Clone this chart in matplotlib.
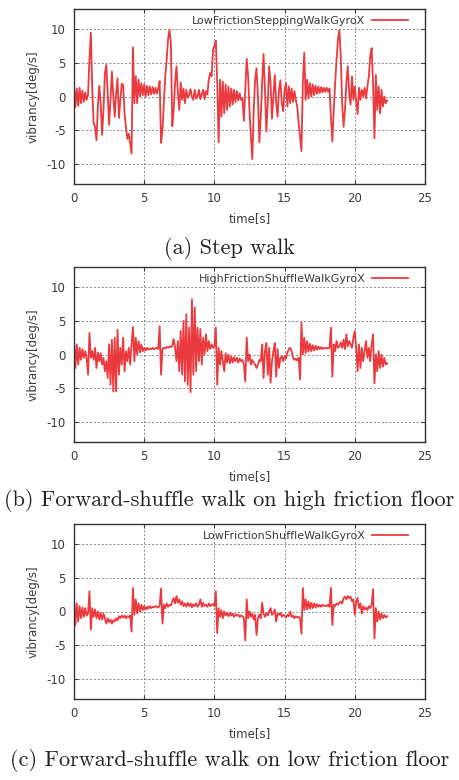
import numpy as np
import matplotlib
matplotlib.use("Agg")
import matplotlib.pyplot as plt

# Sample period of the gyro traces [s]
SAMPLE_PERIOD = 0.1

# (a) Low friction stepping walk, GyroX [deg/s], one row per second
step_walk = [
    1.5, -1.6, 1.2, -1.4, 1.3, -1.0, 0.9, -0.8, 0.6, -0.5,
    0.3, 5.5, 9.5, 1.0, -4.0, -4.5, -6.5, -1.5, 1.6, -1.0,
    -5.7, -2.0, 3.5, 4.7, 0.5, -4.2, -0.5, 3.7, 0.0, -3.0,
    0.5, 2.7, -3.2, -0.5, 1.9, 1.7, -2.5, -4.5, -6.3, -5.5,
    -7.0, -8.5, 7.3, -1.0, 3.0, -1.0, 2.5, 0.0, 2.0, 0.2,
    1.8, 0.0, 1.6, 0.2, 1.5, 0.3, 1.4, 0.4, 1.3, 0.4,
    1.2, 2.3, -6.9, -5.0, -1.0, 3.0, 5.5, 8.5, 9.9, 8.0,
    -4.4, -2.0, 2.0, 4.5, 0.5, -2.0, 2.1, -0.5, 1.2, -1.0,
    1.0, -0.2, 0.2, 1.1, 0.0, -0.5, 1.0, -0.3, 0.0, 1.0,
    -0.4, 0.3, 1.0, -0.4, 0.8, 0.3, 2.5, 3.5, 3.0, 7.0,
    7.5, 8.3, 2.0, -6.8, 2.5, -3.0, 2.2, -2.5, 1.8, -2.0,
    1.5, -1.5, 1.2, -1.2, 1.0, -0.8, 0.8, -0.6, 0.5, -0.5,
    -0.3, -3.6, 1.0, 5.6, 3.0, -2.0, -6.0, -9.3, -2.0, 2.5,
    4.2, 0.0, -6.8, -3.0, 2.0, 6.3, 1.0, -5.2, -1.0, 4.5,
    2.0, -3.3, 0.0, 3.2, -1.0, -3.0, 1.0, 2.4, -1.0, -2.2,
    1.0, 2.0, -1.5, 1.5, -1.0, 1.2, -0.8, 0.8, -0.5, -1.5,
    -4.0, -6.0, -8.1, 2.0, 6.5, -0.5, 2.5, -0.3, 2.0, 0.0,
    1.8, 0.2, 1.6, 0.4, 1.5, 0.5, 1.4, 0.6, 1.3, 0.7,
    1.3, 0.7, 1.2, -3.0, -6.7, -2.0, 2.0, 5.5, 8.5, 9.9,
    6.0, -1.0, -4.5, -2.0, 2.0, 4.5, 0.5, -1.2, 3.0, -0.5,
    1.5, -0.8, -2.6, 1.3, -0.5, 1.0, 0.0, 1.3, -0.3, 1.5,
    3.0, 6.0, 7.2, 2.0, -6.2, 3.2, -2.0, 1.5, -2.5, 1.0,
    -1.5, 0.0, -1.0, -0.6,
]

# (b) High friction forward-shuffle walk, GyroX [deg/s]
shuffle_high = [
    2.0, -2.0, 1.5, -1.5, 1.0, -0.8, 0.8, -0.5, 0.5, -0.6,
    -3.0, 3.2, -0.5, 0.5, -0.8, 1.0, -2.0, 0.3, -1.0, 0.2,
    -1.5, -0.5, -2.5, -1.0, -3.5, 1.5, -4.5, 2.2, -5.5, 2.5,
    -5.5, 3.7, -3.0, 1.0, -1.5, 2.5, -2.5, 0.5, -1.0, 1.0,
    -1.5, 1.5, 4.1, -1.0, 2.5, 0.0, 2.0, 0.3, 1.5, 0.5,
    1.0, 0.6, 1.0, 0.7, 0.9, 0.8, 1.0, 0.8, 0.9, 1.0,
    0.8, 4.2, -3.0, 0.8, 1.0, 0.9, 1.1, 1.0, 1.2, 1.1,
    1.3, 2.3, 1.0, -1.0, 2.0, -2.5, 3.5, -3.0, 5.0, -4.0,
    6.0, -4.5, 4.0, -5.6, 8.2, -3.0, 7.0, -2.5, 4.0, -1.0,
    3.8, -1.5, 2.5, 0.0, 3.0, 0.5, 2.0, 0.8, 1.5, 1.0,
    1.2, 4.0, -4.5, 1.0, -1.5, 0.5, -1.0, -2.5, 0.2, -1.2,
    0.0, -1.3, -0.3, -1.2, -0.4, -1.0, -0.5, -1.2, -0.6, -1.0,
    -0.8, -1.5, -4.0, 2.5, -1.0, 0.0, -1.5, -0.8, -1.2, -1.5,
    -2.0, -1.5, -0.8, -1.0, 1.5, -3.5, 0.5, 1.7, -3.0, 1.0,
    -4.2, -1.0, 0.5, 1.7, -3.3, 0.8, -2.0, -0.5, -0.3, -1.0,
    -0.2, -0.6, 0.3, 0.8, 1.0, 0.5, -0.5, -0.8, -0.6, -0.9,
    -0.5, -3.7, 4.7, 0.0, 2.5, 0.2, 2.0, 0.4, 1.6, 0.5,
    1.4, 0.6, 1.3, 0.7, 1.2, 0.8, 1.1, 0.8, 1.0, 0.9,
    1.0, 0.9, 1.0, 4.0, -3.3, 1.5, 0.5, 2.0, 1.0, 1.2,
    1.8, 1.0, 2.2, 0.8, 3.0, 1.2, 2.0, 1.5, 1.0, 2.5,
    3.5, 1.0, -2.5, 1.5, -2.0, 1.0, -1.0, 0.5, 2.0, -0.5,
    1.0, -1.0, 1.5, 3.0, -4.3, 0.0, -2.5, 0.5, -2.0, 0.0,
    -1.8, -0.5, -1.5, -1.3,
]

# (c) Low friction forward-shuffle walk, GyroX [deg/s]
shuffle_low = [
    1.7, -2.0, 1.2, -1.5, 0.8, -1.0, 0.6, -0.8, 0.5, -0.6,
    -0.3, 3.0, -2.7, 0.5, -0.8, 0.3, -1.0, 0.0, -1.2, -0.2,
    -1.2, -0.3, -1.0, -1.8, -1.0, -1.6, -1.2, -1.8, -1.3, -1.5,
    -1.0, -1.3, -0.7, -1.0, -0.6, -0.9, -0.6, -1.0, -0.7, -0.8,
    -0.6, -3.0, 3.5, -0.5, 1.8, -0.3, 1.2, 0.0, 1.0, 0.2,
    0.8, 0.3, 0.7, 0.4, 0.8, 0.5, 0.7, 0.6, 0.8, 0.7,
    0.6, 0.9, 3.4, -1.8, 1.0, 0.5, 1.2, 0.7, 1.0, 0.9,
    1.5, 2.0, 1.2, 2.3, 1.3, 1.8, 1.0, 1.5, 0.8, 1.2,
    0.7, 1.3, 0.8, 1.2, 0.6, 1.1, 0.8, 1.2, 0.7, 1.0,
    1.8, 0.7, 1.3, 0.8, 1.0, 0.7, 1.2, 0.8, 1.0, 1.1,
    0.8, 3.0, -3.2, 0.5, -0.8, 0.2, -1.0, 0.0, -0.6, -0.2,
    -0.7, -0.2, -0.6, -0.3, -0.8, -0.4, -0.6, -0.5, -0.8, -0.6,
    -0.7, -1.0, -4.3, 1.8, -1.0, 0.0, -0.8, -0.3, -1.2, -0.5,
    -3.5, -1.0, -0.5, -1.0, 1.3, -0.3, -0.8, -0.2, -0.6, 0.0,
    0.5, -0.5, -0.2, 0.3, -1.5, -0.3, -0.5, -0.2, -0.8, -0.5,
    -0.6, -0.9, -0.5, -0.7, 0.0, -0.8, -0.6, -1.0, -0.7, -0.9,
    -0.8, -1.0, -3.3, 3.5, 0.2, 1.8, 0.3, 1.5, 0.4, 1.3,
    0.5, 1.2, 0.6, 1.1, 0.7, 1.0, 0.7, 1.0, 0.8, 0.9,
    0.8, 1.0, 0.7, 3.5, -2.0, 1.0, 0.8, 1.2, 1.0, 1.3,
    1.5, 1.2, 2.0, 2.2, 1.8, 2.3, 2.0, 2.2, 1.5, 1.8,
    -0.5, 1.5, 2.0, 0.5, 1.2, -0.3, 0.8, 0.3, 0.6, 0.2,
    0.8, 0.5, 1.0, 3.3, -4.0, 0.5, -1.5, 0.0, -1.2, -0.3,
    -1.0, -0.5, -0.9, -0.7,
]

legend_labels = ["LowFrictionSteppingWalkGyroX",
                 "HighFrictionShuffleWalkGyroX",
                 "LowFrictionShuffleWalkGyroX"]
captions = ["(a) Step walk",
            "(b) Forward-shuffle walk on high friction floor",
            "(c) Forward-shuffle walk on low friction floor"]
x_ticks = [0, 5, 10, 15, 20, 25]
y_ticks = [-10, -5, 0, 5, 10]

W, H = 459, 780
fig = plt.figure(figsize=(W / 100, H / 100), dpi=100)

LINE = "#ea3a3e"
TXT = "#3a3a3a"
tick_font = "DejaVu Sans"

panel_tops = [9, 267, 524]
ax_left, ax_right = 74, 425
ax_h = 175
caption_y = [248, 500, 760]

series = [step_walk, shuffle_high, shuffle_low]
for i, vals in enumerate(series):
    top = panel_tops[i]
    ax = fig.add_axes([ax_left / W, 1 - (top + ax_h) / H,
                       (ax_right - ax_left) / W, ax_h / H])
    t = np.arange(len(vals)) * SAMPLE_PERIOD
    ax.plot(t, vals, color=LINE, lw=1.3, label=legend_labels[i])
    ax.set_xlim(0, 25)
    ax.set_ylim(-13, 13)
    ax.set_xticks(x_ticks)
    ax.set_yticks(y_ticks)
    ax.set_xticklabels([str(v) for v in x_ticks])
    ax.set_yticklabels([str(v) for v in y_ticks])
    ax.tick_params(direction="in", length=3, width=0.8, top=True, right=True,
                   labelsize=8.5, colors=TXT, pad=6)
    for lab in ax.get_xticklabels() + ax.get_yticklabels():
        lab.set_fontfamily(tick_font)
    ax.grid(True, color="#888888", lw=0.7, linestyle=(0, (2, 2)))
    for s in ax.spines.values():
        s.set_color("#333333")
        s.set_linewidth(1.0)
    ax.set_xlabel("time[s]", fontsize=8.5, color=TXT, family=tick_font, labelpad=4.5)
    ax.set_ylabel("vibrancy[deg/s]", fontsize=8.5, color=TXT, family=tick_font, labelpad=5)
    leg = ax.legend(loc="upper right", bbox_to_anchor=(1 - 10 / 351, 1),
                    frameon=False, markerfirst=False,
                    handlelength=3.2, handletextpad=0.6, borderaxespad=0.25,
                    prop={"family": tick_font, "size": 8})
    for tx in leg.get_texts():
        tx.set_color(TXT)
    fig.text(0.5, 1 - caption_y[i] / H, captions[i], ha="center", va="center",
             fontsize=16, family="cmr10", color="#222222")

fig.savefig("out.png", dpi=100)
